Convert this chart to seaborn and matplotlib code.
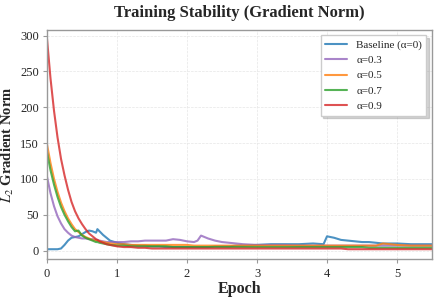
import matplotlib
matplotlib.use('Agg')
import matplotlib.pyplot as plt
import seaborn as sns
import pandas as pd

epoch = [0.0, 0.05, 0.1, 0.15, 0.2, 0.25, 0.3, 0.35, 0.4, 0.45, 0.5, 0.55, 0.6, 0.65,
         0.7, 0.72, 0.75, 0.8, 0.85, 0.9, 1.0, 1.1, 1.2, 1.3, 1.4, 1.5, 1.6, 1.7, 1.8,
         1.9, 2.0, 2.1, 2.15, 2.2, 2.3, 2.4, 2.5, 2.6, 2.7, 2.8, 3.0, 3.2, 3.4, 3.6,
         3.8, 3.95, 4.0, 4.1, 4.2, 4.3, 4.4, 4.5, 4.6, 4.7, 4.8, 4.9, 5.0, 5.2, 5.4, 5.5]

baseline = [2, 2, 2, 2, 3, 8, 14, 18, 19, 20, 23, 26, 28, 27, 25, 30, 27, 22, 18, 14,
            11, 9, 8, 7, 7, 6, 6, 5, 5, 5, 5, 5, 5, 5, 5, 6, 6, 6, 7, 7,
            8, 9, 9, 9, 10, 9, 20, 18, 15, 14, 13, 12, 12, 11, 10, 10, 10, 9, 9, 9]
a03 = [103, 80, 62, 48, 38, 30, 25, 21, 19, 18, 17, 17, 16, 16, 15, 15, 14, 13, 12, 12,
       12, 12, 13, 13, 14, 14, 14, 14, 16, 15, 13, 12, 14, 21, 17, 14, 12, 11, 10, 9,
       8, 8, 8, 7, 7, 7, 7, 7, 7, 7, 7, 7, 7, 7, 7, 7, 7, 7, 7, 7]
a05 = [148, 122, 100, 82, 67, 55, 45, 37, 30, 26, 22, 19, 17, 15, 14, 14, 13, 12, 11, 10,
       9, 9, 8, 8, 8, 8, 8, 8, 8, 8, 8, 7, 7, 7, 7, 7, 7, 7, 7, 7,
       7, 7, 7, 7, 7, 7, 7, 7, 7, 7, 7, 7, 7, 7, 10, 9, 8, 7, 7, 7]
a07 = [137, 112, 92, 75, 61, 50, 41, 33, 27, 28, 21, 18, 16, 14, 12, 12, 11, 10, 9, 8,
       7, 7, 6, 6, 6, 6, 6, 6, 5, 5, 5, 5, 5, 5, 5, 5, 5, 5, 5, 5,
       5, 5, 5, 5, 5, 5, 5, 5, 5, 5, 5, 5, 4, 4, 4, 4, 4, 4, 4, 4]
a09 = [295, 240, 195, 158, 128, 105, 85, 68, 55, 45, 37, 30, 24, 20, 16, 15, 13, 11, 9, 8,
       6, 5, 5, 4, 4, 3, 3, 3, 3, 3, 3, 3, 3, 3, 3, 3, 3, 3, 3, 3,
       3, 3, 3, 3, 3, 3, 3, 3, 3, 2, 2, 2, 2, 2, 2, 2, 2, 2, 2, 2]

labels = ['Baseline (α=0)', 'α=0.3', 'α=0.5', 'α=0.7', 'α=0.9']
colors = ['#1f77b4', '#9467bd', '#ff7f0e', '#2ca02c', '#d62728']

rows = []
for lab, vals in zip(labels, [baseline, a03, a05, a07, a09]):
    for e, v in zip(epoch, vals):
        rows.append({'epoch': e, 'norm': v, 'run': lab})
df = pd.DataFrame(rows)

sns.set_style('whitegrid')
plt.rcParams['font.family'] = ['Liberation Serif', 'DejaVu Serif']
plt.rcParams['mathtext.fontset'] = 'stix'

fig = plt.figure(figsize=(4.37, 2.98), dpi=100)
ax = fig.add_axes([0.1076, 0.130, 0.881, 0.770])
sns.lineplot(data=df, x='epoch', y='norm', hue='run', hue_order=labels,
             palette=colors, linewidth=1.5, alpha=0.8, ax=ax)

ax.set_xlim(0, 5.5)
ax.set_ylim(-12, 308)
ax.set_yticks([0, 50, 100, 150, 200, 250, 300])
ax.set_xticks([0, 1, 2, 3, 4, 5])
ax.grid(True, linestyle='--', linewidth=0.5, color='#e6e6e6')
for s in ax.spines.values():
    s.set_color('#999999')
    s.set_linewidth(1.0)
ax.tick_params(axis='both', labelsize=9, length=3, pad=3, color='#999999', left=True, bottom=True)
ax.set_title('Training Stability (Gradient Norm)', fontsize=12, fontweight='bold', pad=9)
ax.set_xlabel('Epoch', fontsize=11.5, fontweight='bold', labelpad=1)
ax.set_ylabel('$L_2$ Gradient Norm', fontsize=10.5, fontweight='bold', labelpad=3)
leg = ax.legend(loc='upper right', fontsize=8, frameon=True, fancybox=False,
                shadow={'color': '#888888', 'alpha': 0.35}, framealpha=1)
leg.get_frame().set_edgecolor('#cccccc')

plt.savefig('out.png', dpi=100)
